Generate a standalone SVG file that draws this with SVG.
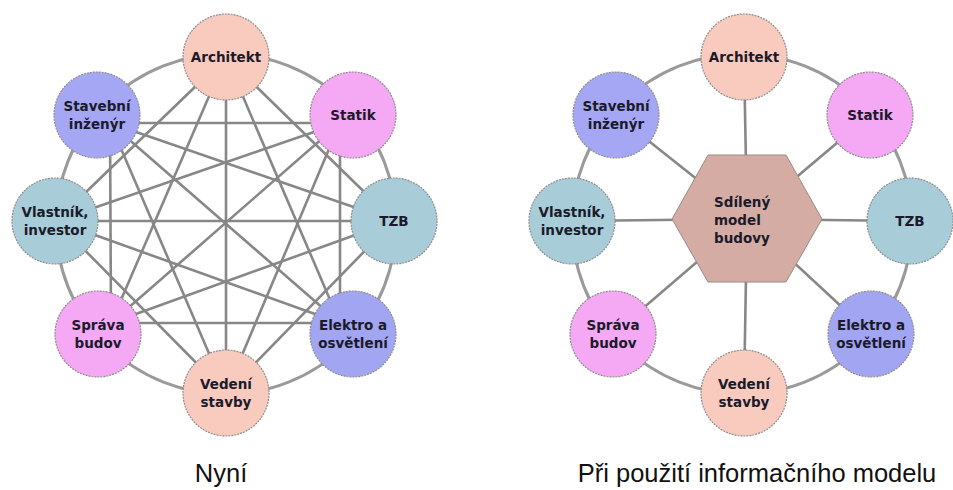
<svg xmlns="http://www.w3.org/2000/svg" width="953" height="490" viewBox="0 0 953 490">
<style>
.ring{fill:none;stroke:#9a9a9a;stroke-width:3}
.ln{stroke:#878787;stroke-width:2.6;fill:none}
.nd{stroke:#8c8c8c;stroke-width:1.2;stroke-dasharray:2 1}
.t{font-family:"DejaVu Sans",Verdana,sans-serif;font-weight:bold;font-size:13.5px;fill:#1a1a2a;text-anchor:middle}
.cap{font-family:"Liberation Sans",Arial,sans-serif;font-size:25.5px;fill:#111;text-anchor:middle}
.peach{fill:#F9CABE}
.lav{fill:#A6A7F4}
.pink{fill:#F5A8F4}
.blue{fill:#A9CCD9}
.el{fill:#A2A5F2}
</style>
<rect width="953" height="490" fill="#fff"/>

<!-- LEFT: "Nyni" -->
<g id="left-connectors">
<circle class="ring" cx="226" cy="224" r="170"/>
<!-- attachment points: A(226,57) St(340,123) T(394,221) E(340,323) V(226,393) S(111,323) Vl(56,221) SI(110,123) -->
<line class="ln" x1="226" y1="57" x2="394" y2="221"/>
<line class="ln" x1="226" y1="57" x2="340" y2="323"/>
<line class="ln" x1="226" y1="57" x2="226" y2="393"/>
<line class="ln" x1="226" y1="57" x2="111" y2="323"/>
<line class="ln" x1="226" y1="57" x2="56" y2="221"/>
<line class="ln" x1="340" y1="123" x2="340" y2="323"/>
<line class="ln" x1="340" y1="123" x2="226" y2="393"/>
<line class="ln" x1="340" y1="123" x2="111" y2="323"/>
<line class="ln" x1="340" y1="123" x2="56" y2="221"/>
<line class="ln" x1="340" y1="123" x2="110" y2="123"/>
<line class="ln" x1="394" y1="221" x2="226" y2="393"/>
<line class="ln" x1="394" y1="221" x2="111" y2="323"/>
<line class="ln" x1="394" y1="221" x2="56" y2="221"/>
<line class="ln" x1="394" y1="221" x2="110" y2="123"/>
<line class="ln" x1="340" y1="323" x2="111" y2="323"/>
<line class="ln" x1="340" y1="323" x2="56" y2="221"/>
<line class="ln" x1="340" y1="323" x2="110" y2="123"/>
<line class="ln" x1="226" y1="393" x2="56" y2="221"/>
<line class="ln" x1="226" y1="393" x2="110" y2="123"/>
<line class="ln" x1="111" y1="323" x2="110" y2="123"/>
</g>

<g id="L-architekt"><circle class="nd peach" cx="226" cy="57" r="43"/><text class="t" x="226" y="62">Architekt</text></g>
<g id="L-statik"><circle class="nd pink" cx="353" cy="115" r="43"/><text class="t" x="353" y="120">Statik</text></g>
<g id="L-tzb"><circle class="nd blue" cx="394" cy="221" r="43"/><text class="t" x="394" y="226">TZB</text></g>
<g id="L-elektro"><circle class="nd el" cx="353" cy="334" r="43"/><text class="t" x="353" y="330">Elektro a</text><text class="t" x="353" y="348">osvětlení</text></g>
<g id="L-vedeni"><circle class="nd peach" cx="226" cy="393" r="43"/><text class="t" x="226" y="389">Vedení</text><text class="t" x="226" y="407">stavby</text></g>
<g id="L-sprava"><circle class="nd pink" cx="98" cy="334" r="43"/><text class="t" x="98" y="330">Správa</text><text class="t" x="98" y="348">budov</text></g>
<g id="L-vlastnik"><circle class="nd blue" cx="55" cy="221" r="43"/><text class="t" x="55" y="217">Vlastník,</text><text class="t" x="55" y="235">investor</text></g>
<g id="L-stavebni"><circle class="nd lav" cx="97" cy="115" r="43"/><text class="t" x="97" y="111">Stavební</text><text class="t" x="97" y="129">inženýr</text></g>

<text class="cap" x="221" y="482">Nyní</text>

<!-- RIGHT -->
<g id="right-connectors">
<circle class="ring" cx="742" cy="224" r="170"/>
<line class="ln" x1="747" y1="219" x2="744" y2="57"/>
<line class="ln" x1="747" y1="219" x2="870" y2="115"/>
<line class="ln" x1="747" y1="219" x2="910" y2="221"/>
<line class="ln" x1="747" y1="219" x2="871" y2="334"/>
<line class="ln" x1="747" y1="219" x2="744" y2="393"/>
<line class="ln" x1="747" y1="219" x2="613" y2="334"/>
<line class="ln" x1="747" y1="219" x2="572" y2="221"/>
<line class="ln" x1="747" y1="219" x2="616" y2="115"/>
</g>

<g id="R-model"><polygon points="672,219 708,155 786,155 822,219 786,282 708,282" fill="#D5ACA3" stroke="#9a8a88" stroke-width="1"/>
<text class="t" x="714" y="207" style="text-anchor:start">Sdílený</text><text class="t" x="714" y="225" style="text-anchor:start">model</text><text class="t" x="714" y="243" style="text-anchor:start">budovy</text></g>

<g id="R-architekt"><circle class="nd peach" cx="744" cy="57" r="43"/><text class="t" x="744" y="62">Architekt</text></g>
<g id="R-statik"><circle class="nd pink" cx="870" cy="115" r="43"/><text class="t" x="870" y="120">Statik</text></g>
<g id="R-tzb"><circle class="nd blue" cx="910" cy="221" r="43"/><text class="t" x="910" y="226">TZB</text></g>
<g id="R-elektro"><circle class="nd el" cx="871" cy="334" r="43"/><text class="t" x="871" y="330">Elektro a</text><text class="t" x="871" y="348">osvětlení</text></g>
<g id="R-vedeni"><circle class="nd peach" cx="744" cy="393" r="43"/><text class="t" x="744" y="389">Vedení</text><text class="t" x="744" y="407">stavby</text></g>
<g id="R-sprava"><circle class="nd pink" cx="613" cy="334" r="43"/><text class="t" x="613" y="330">Správa</text><text class="t" x="613" y="348">budov</text></g>
<g id="R-vlastnik"><circle class="nd blue" cx="572" cy="221" r="43"/><text class="t" x="572" y="217">Vlastník,</text><text class="t" x="572" y="235">investor</text></g>
<g id="R-stavebni"><circle class="nd lav" cx="616" cy="115" r="43"/><text class="t" x="616" y="111">Stavební</text><text class="t" x="616" y="129">inženýr</text></g>

<text class="cap" x="757" y="482">Při použití informačního modelu</text>
</svg>
